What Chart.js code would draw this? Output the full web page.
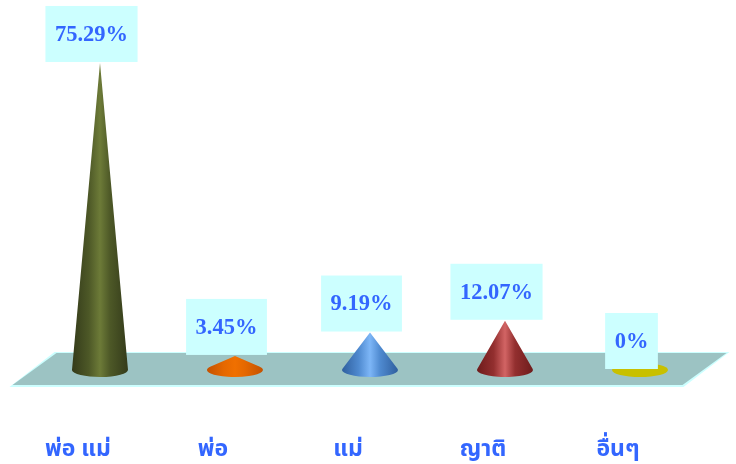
<!DOCTYPE html>
<html>
<head>
<meta charset="utf-8">
<style>
  html, body { margin: 0; padding: 0; background: #ffffff; }
  canvas { display: block; }
</style>
<script src="https://cdn.jsdelivr.net/npm/chart.js@4/dist/chart.umd.js"></script>
</head>
<body>
<canvas id="myChart" width="736" height="464"></canvas>
<script>
const categories = ['พ่อ แม่', 'พ่อ', 'แม่', 'ญาติ', 'อื่นๆ'];
const percents = [75.29, 3.45, 9.19, 12.07, 0];
const valueLabels = ['75.29%', '3.45%', '9.19%', '12.07%', '0%'];
const coneEdge = ['#343b1a', '#c45200', '#2f5f9e', '#6e1c1c', '#c8c000'];
const coneMid = ['#4d5827', '#e56800', '#4f8ad0', '#932f2f', '#c8c000'];
const coneLight = ['#6d7b38', '#f07000', '#7db6f7', '#d26464', '#c8c000'];

const blue = '#3366ff';
const boxColor = '#ccffff';

// floor under the cones, hangs off the chart area
const floorPlugin = {
  id: 'floor',
  beforeDatasetsDraw(chart) {
    const { ctx, chartArea } = chart;
    const b = chartArea.bottom, l = chartArea.left, r = chartArea.right;
    ctx.save();
    ctx.beginPath();
    ctx.moveTo(l + 22, b - 18);
    ctx.lineTo(r + 22, b - 18);
    ctx.lineTo(r - 24, b + 17);
    ctx.lineTo(l - 23, b + 17);
    ctx.closePath();
    ctx.fillStyle = boxColor;
    ctx.fill();
    ctx.beginPath();
    ctx.moveTo(l + 24, b - 17);
    ctx.lineTo(r + 19, b - 17);
    ctx.lineTo(r - 25, b + 15);
    ctx.lineTo(l - 20, b + 15);
    ctx.closePath();
    ctx.fillStyle = '#9cc3c3';
    ctx.fill();
    ctx.restore();
  }
};

// the bars stay invisible, each one is painted as a cone from its own element
const conePlugin = {
  id: 'cones',
  afterDatasetsDraw(chart) {
    const ctx = chart.ctx;
    const ry = 7;
    chart.getDatasetMeta(0).data.forEach((bar, i) => {
      const rx = bar.width / 2;
      const h = bar.base - bar.y;
      const grad = ctx.createLinearGradient(bar.x - rx, 0, bar.x + rx, 0);
      grad.addColorStop(0, coneEdge[i]);
      grad.addColorStop(0.3, coneMid[i]);
      grad.addColorStop(0.5, coneLight[i]);
      grad.addColorStop(0.68, coneMid[i]);
      grad.addColorStop(1, coneEdge[i]);
      ctx.save();
      ctx.fillStyle = grad;
      ctx.beginPath();
      if (h <= ry) {
        ctx.ellipse(bar.x, bar.base, rx, ry, 0, 0, Math.PI * 2);
      } else {
        const a = Math.asin(ry / h);
        ctx.moveTo(bar.x, bar.y);
        ctx.ellipse(bar.x, bar.base, rx, ry, 0, -a, Math.PI + a);
        ctx.closePath();
      }
      ctx.fill();
      ctx.restore();
    });

    // value boxes sit on the tip of the cone
    ctx.save();
    ctx.font = 'bold 22.5px "Liberation Serif", serif';
    ctx.textAlign = 'center';
    ctx.textBaseline = 'middle';
    chart.getDatasetMeta(0).data.forEach((bar, i) => {
      const w = ctx.measureText(valueLabels[i]).width + 19;
      const cx = bar.x - 8.5;
      ctx.fillStyle = boxColor;
      ctx.fillRect(cx - w / 2, bar.y - 57, w, 56);
      ctx.fillStyle = blue;
      ctx.fillText(valueLabels[i], cx, bar.y - 28);
    });
    ctx.restore();
  }
};

new Chart(document.getElementById('myChart'), {
  type: 'bar',
  data: {
    labels: categories,
    datasets: [{
      data: percents,
      backgroundColor: 'transparent',
      borderWidth: 0,
      barThickness: 56
    }]
  },
  options: {
    responsive: false,
    animation: false,
    layout: { padding: { left: 32.5, right: 28.5, top: 3, bottom: 0 } },
    scales: {
      y: { display: false, min: 0, max: 90 },
      x: {
        grid: { display: false },
        border: { display: false },
        afterFit: scale => { scale.height = 94; },
        ticks: {
          color: blue,
          autoSkip: false,
          maxRotation: 0,
          padding: 60,
          labelOffset: -22,
          font: { family: '"Noto Sans Thai", "Noto Sans", "DejaVu Sans", sans-serif', size: 23, weight: 'bold' }
        }
      }
    },
    plugins: {
      legend: { display: false },
      tooltip: { enabled: false }
    }
  },
  plugins: [floorPlugin, conePlugin]
});
</script>
</body>
</html>
